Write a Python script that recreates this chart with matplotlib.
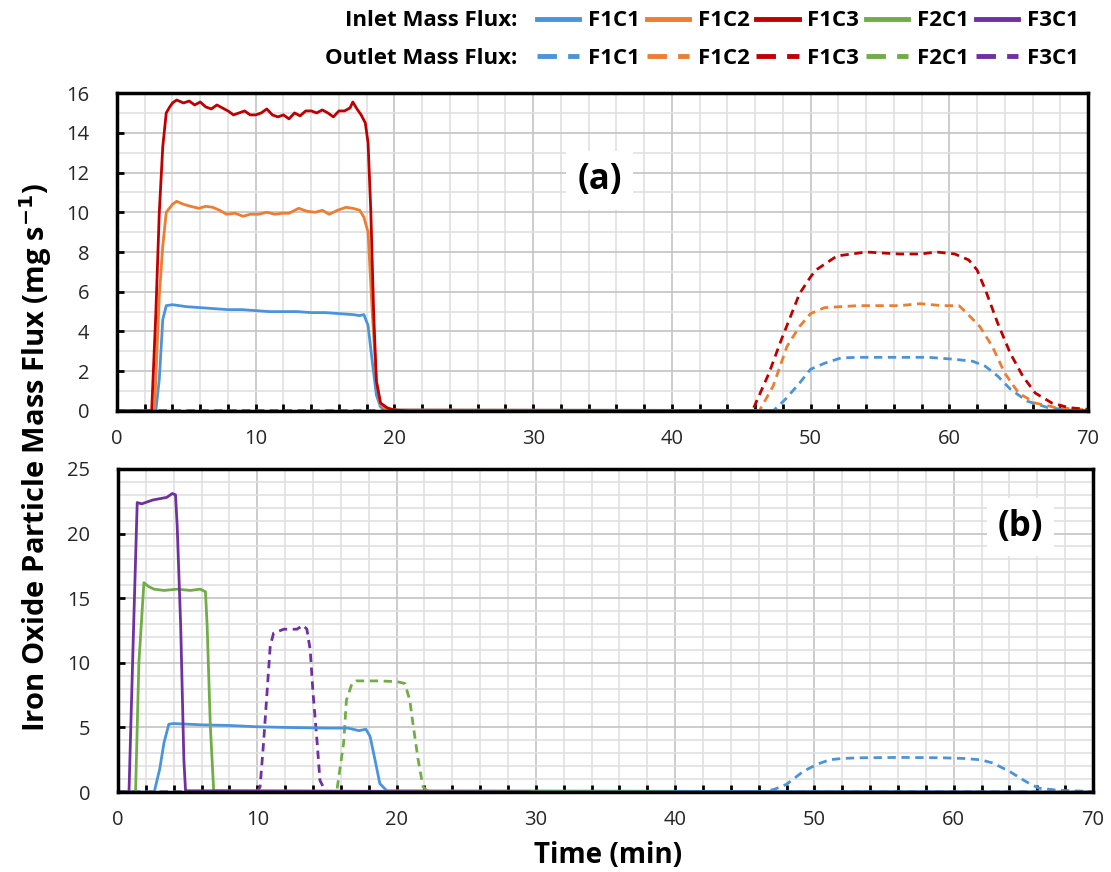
import matplotlib
matplotlib.use("Agg")
import matplotlib.pyplot as plt
from matplotlib.lines import Line2D
from matplotlib.ticker import MultipleLocator

plt.rcParams['font.family'] = ['Open Sans', 'DejaVu Sans']

# colours of the five runs
BLUE = '#4a94dc'
ORANGE = '#ED7D31'
RED = '#C00000'
GREEN = '#70AD47'
PURPLE = '#7030A0'

# ---- panel (a): inlet (solid) ----
a_in_f1c1_t = [0, 2.8, 3.05, 3.3, 3.55, 4.0, 4.5, 5.0, 6.0, 7.0, 8.0, 9.0, 10.0, 11.0, 12.0,
               13.0, 14.0, 15.0, 16.0, 17.0, 17.5, 17.8, 18.1, 18.4, 18.7, 19.0, 19.5, 70]
a_in_f1c1 = [0, 0, 1.6, 4.6, 5.3, 5.35, 5.3, 5.25, 5.2, 5.15, 5.1, 5.1, 5.05, 5.0, 5.0,
             5.0, 4.95, 4.95, 4.9, 4.85, 4.8, 4.85, 4.3, 2.5, 0.8, 0.2, 0.05, 0]

a_in_f1c2_t = [0, 2.7, 3.05, 3.3, 3.55, 4.0, 4.3, 4.8, 5.3, 5.9, 6.4, 6.9, 7.4, 7.9, 8.5, 9.1,
               9.6, 10.2, 10.8, 11.4, 11.9, 12.4, 13.1, 13.7, 14.3, 14.8, 15.3, 15.9, 16.5,
               17.0, 17.5, 17.8, 18.1, 18.4, 18.7, 19.0, 19.5, 70]
a_in_f1c2 = [0, 0, 5.8, 8.3, 10.0, 10.4, 10.55, 10.4, 10.3, 10.2, 10.3, 10.25, 10.1, 9.9, 9.95, 9.8,
             9.9, 9.9, 10.0, 9.9, 9.95, 9.95, 10.2, 10.05, 10.0, 10.1, 9.9, 10.1, 10.25,
             10.2, 10.1, 9.75, 9.0, 5.0, 1.5, 0.3, 0.05, 0]

a_in_f1c3_t = [0, 2.5, 2.8, 3.05, 3.3, 3.55, 3.8, 4.0, 4.3, 4.8, 5.2, 5.6, 6.0, 6.4, 6.8, 7.2,
               7.6, 8.0, 8.4, 8.8, 9.2, 9.6, 10.0, 10.4, 10.8, 11.2, 11.6, 12.0, 12.4, 12.8,
               13.2, 13.6, 14.0, 14.4, 14.8, 15.2, 15.6, 16.0, 16.4, 16.8, 17.0, 17.3, 17.6,
               17.9, 18.1, 18.3, 18.5, 18.7, 19.0, 19.5, 20.0, 21.0, 70]
a_in_f1c3 = [0, 0, 4.9, 10.0, 13.3, 15.0, 15.3, 15.5, 15.65, 15.5, 15.6, 15.4, 15.55, 15.3, 15.2, 15.4,
             15.25, 15.1, 14.9, 15.0, 15.1, 14.9, 14.9, 15.0, 15.2, 14.9, 14.8, 14.9, 14.7, 15.0,
             14.85, 15.1, 15.1, 15.0, 15.15, 15.0, 14.8, 15.1, 15.1, 15.25, 15.55, 15.2, 14.9,
             14.5, 13.5, 10.0, 5.0, 1.5, 0.4, 0.15, 0.05, 0, 0]

# ---- panel (a): outlet (dashed) ----
a_out_f1c1_t = [0, 47.3, 48.2, 49.2, 50.0, 51.0, 52.2, 53.4, 56.4, 58.5, 60.4, 61.7, 62.6,
                63.5, 64.4, 65.6, 67.1, 68.6, 70]
a_out_f1c1 = [0, 0, 0.6, 1.4, 2.1, 2.4, 2.67, 2.7, 2.7, 2.7, 2.6, 2.5, 2.25,
              1.75, 1.1, 0.5, 0.17, 0.05, 0]

a_out_f1c2_t = [0, 46.3, 47.3, 48.3, 49.2, 50.0, 51.0, 52.2, 53.4, 56.4, 57.9, 59.5, 60.7,
                61.3, 62.2, 63.1, 64.0, 65.0, 66.2, 67.7, 70]
a_out_f1c2 = [0, 0, 1.25, 3.25, 4.25, 4.9, 5.2, 5.25, 5.3, 5.3, 5.4, 5.3, 5.3,
              4.9, 4.25, 3.25, 1.9, 0.9, 0.4, 0.17, 0.05]

a_out_f1c3_t = [0, 45.8, 47.0, 47.9, 49.2, 50.0, 50.4, 51.9, 54.0, 56.4, 57.9, 59.1, 60.4,
                61.4, 62.0, 62.6, 63.5, 64.4, 65.3, 66.2, 67.4, 68.6, 70]
a_out_f1c3 = [0, 0, 1.9, 3.6, 5.9, 6.75, 7.1, 7.8, 8.0, 7.9, 7.9, 8.0, 7.9,
              7.6, 7.1, 6.1, 4.4, 2.9, 1.75, 0.9, 0.4, 0.17, 0.08]

# ---- panel (b): inlet (solid) ----
b_in_f1c1_t = [0, 2.6, 3.0, 3.3, 3.65, 4.0, 5.0, 6.0, 8.0, 10.0, 12.0, 15.0, 16.5, 17.3,
               17.8, 18.1, 18.45, 18.8, 19.3, 70]
b_in_f1c1 = [0, 0, 1.8, 3.8, 5.25, 5.3, 5.25, 5.2, 5.15, 5.05, 5.0, 4.95, 4.95, 4.75,
             4.86, 4.3, 2.5, 0.65, 0.1, 0]

b_in_f2c1_t = [0, 1.26, 1.5, 1.86, 2.2, 2.58, 3.3, 4.25, 5.2, 5.9, 6.28, 6.4, 6.63, 6.87, 40]
b_in_f2c1 = [0, 0, 10.0, 16.2, 15.9, 15.7, 15.6, 15.7, 15.6, 15.7, 15.5, 12.9, 5.1, 0.1, 0]

b_in_f3c1_t = [0, 0.79, 1.1, 1.38, 1.7, 2.5, 3.0, 3.5, 3.9, 4.13, 4.25, 4.5, 4.73, 4.85, 29.5]
b_in_f3c1 = [0, 0, 12.0, 22.4, 22.3, 22.6, 22.7, 22.8, 23.1, 23.0, 20.6, 12.9, 2.5, 0.1, 0]

# ---- panel (b): outlet (dashed) ----
b_out_f1c1_t = [0, 46.2, 47.1, 48.0, 49.2, 50.2, 51.1, 52.0, 53.2, 56.2, 59.2, 60.7, 61.9,
                62.8, 64.0, 65.2, 66.1, 67.6, 69.8]
b_out_f1c1 = [0, 0, 0.2, 0.6, 1.6, 2.15, 2.5, 2.6, 2.65, 2.68, 2.65, 2.6, 2.5,
              2.25, 1.6, 0.8, 0.3, 0.13, 0.05]

b_out_f2c1_t = [0, 15.7, 16.2, 16.4, 16.8, 17.1, 18.6, 20.0, 20.6, 20.95, 21.2, 21.55, 21.9, 22.3, 70]
b_out_f2c1 = [0, 0, 3.8, 7.1, 8.4, 8.6, 8.6, 8.55, 8.4, 7.1, 5.1, 2.5, 0.4, 0, 0]

b_out_f3c1_t = [0, 9.98, 10.2, 10.45, 10.7, 10.93, 11.17, 11.9, 12.84, 13.3, 13.56, 13.8,
                14.0, 14.3, 14.5, 14.9, 70]
b_out_f3c1 = [0, 0, 0.4, 3.8, 7.7, 11.3, 12.3, 12.6, 12.6, 12.9, 12.6, 11.0,
              7.7, 3.8, 0.9, 0.05, 0]

runs = ['F1C1', 'F1C2', 'F1C3', 'F2C1', 'F3C1']
run_colors = [BLUE, ORANGE, RED, GREEN, PURPLE]

LW = 2.0
DASH = (0, (3.0, 2.0))

fig = plt.figure(figsize=(11.11, 8.72), dpi=100)
ax1 = fig.add_axes([0.1053, 0.5287, 0.8740, 0.3646])
ax2 = fig.add_axes([0.1062, 0.0917, 0.8776, 0.3705])

# panel (a)
ax1.plot(a_out_f1c1_t, a_out_f1c1, color=BLUE, lw=LW, ls=DASH)
ax1.plot(a_out_f1c2_t, a_out_f1c2, color=ORANGE, lw=LW, ls=DASH)
ax1.plot(a_out_f1c3_t, a_out_f1c3, color=RED, lw=LW, ls=DASH)
ax1.plot(a_in_f1c1_t, a_in_f1c1, color=BLUE, lw=LW)
ax1.plot(a_in_f1c2_t, a_in_f1c2, color=ORANGE, lw=LW)
ax1.plot(a_in_f1c3_t, a_in_f1c3, color=RED, lw=LW)

# panel (b)
ax2.plot(b_out_f1c1_t, b_out_f1c1, color=BLUE, lw=LW, ls=DASH)
ax2.plot(b_out_f2c1_t, b_out_f2c1, color=GREEN, lw=LW, ls=DASH)
ax2.plot(b_out_f3c1_t, b_out_f3c1, color=PURPLE, lw=LW, ls=DASH)
ax2.plot(b_in_f1c1_t, b_in_f1c1, color=BLUE, lw=LW)
ax2.plot(b_in_f2c1_t, b_in_f2c1, color=GREEN, lw=LW)
ax2.plot(b_in_f3c1_t, b_in_f3c1, color=PURPLE, lw=LW)

for ax, ymax, ymaj in [(ax1, 16, 2), (ax2, 25, 5)]:
    ax.set_xlim(0, 70)
    ax.set_ylim(0, ymax)
    ax.xaxis.set_major_locator(MultipleLocator(10))
    ax.xaxis.set_minor_locator(MultipleLocator(2))
    ax.yaxis.set_major_locator(MultipleLocator(ymaj))
    ax.yaxis.set_minor_locator(MultipleLocator(1))
    ax.grid(which='major', color='#c4c4c4', lw=1.2)
    ax.grid(which='minor', color='#e0e0e0', lw=1.2)
    ax.set_axisbelow(True)
    ax.tick_params(which='both', direction='in', length=5, width=2, color='black',
                   labelsize=14.5, labelcolor='#262626')
    ax.tick_params(axis='x', which='both', pad=13, top=False)
    ax.tick_params(axis='y', which='major', pad=20)
    ax.tick_params(axis='y', which='minor', length=0)
    for s in ax.spines.values():
        s.set_linewidth(2.5)
        s.set_color('black')

ax1.text(34.8, 11.6, '(a)', fontsize=25, fontweight='bold', ha='center', va='center',
         bbox=dict(facecolor='white', edgecolor='none', pad=8))
ax2.text(64.8, 20.5, '(b)', fontsize=25, fontweight='bold', ha='center', va='center',
         bbox=dict(facecolor='white', edgecolor='none', pad=8))

fig.text(0.032, 1 - 458 / 872, 'Iron Oxide Particle Mass Flux (mg s$^{\\mathbf{-1}}$)',
         rotation=90, fontsize=21, fontweight='bold', ha='center', va='center')
fig.text(0.547, 0.019, 'Time (min)', fontsize=20, fontweight='bold', ha='center', va='center')

# two-row legend at top
in_handles = [Line2D([], [], color=c, lw=3.5) for c in run_colors]
out_handles = [Line2D([], [], color=c, lw=3.5, ls=(0, (4, 2.3))) for c in run_colors]
leg_kw = dict(ncol=5, frameon=False, loc='center left', handlelength=1.9,
              handletextpad=0.4, columnspacing=0.3, borderaxespad=0, borderpad=0,
              prop={'size': 16, 'weight': 'bold'})
fig.legend(in_handles, runs, bbox_to_anchor=(537 / 1111, 1 - 21 / 872), **leg_kw)
fig.legend(out_handles, runs, bbox_to_anchor=(537 / 1111, 1 - 58 / 872), **leg_kw)
fig.text(517 / 1111, 1 - 21 / 872, 'Inlet Mass Flux:', fontsize=16, fontweight='bold',
         ha='right', va='center')
fig.text(517 / 1111, 1 - 58 / 872, 'Outlet Mass Flux:', fontsize=16, fontweight='bold',
         ha='right', va='center')

fig.savefig('out.png', dpi=100)
